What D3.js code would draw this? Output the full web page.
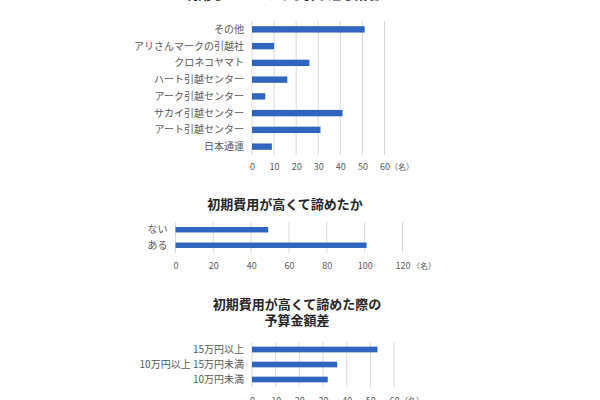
<!DOCTYPE html>
<html>
<head>
<meta charset="utf-8">
<script src="https://cdn.jsdelivr.net/npm/d3@7"></script>
<style>
  body { margin: 0; background: #fff; }
  text { font-family: "Noto Sans CJK JP", "Noto Sans", sans-serif; }
</style>
</head>
<body>
<div id="viz"></div>
<script>
// chart 1
var movers = ["その他", "アリさんマークの引越社", "クロネコヤマト", "ハート引越センター",
              "アーク引越センター", "サカイ引越センター", "アート引越センター", "日本通運"];
var moverCounts = [51, 10, 26, 16, 6, 41, 31, 9];
var moverTicks = [0, 10, 20, 30, 40, 50, 60];

// chart 2
var gaveUp = ["ない", "ある"];
var gaveUpCounts = [49, 101];
var gaveUpTicks = [0, 20, 40, 60, 80, 100, 120];

// chart 3
var budgets = ["15万円以上", "10万円以上 15万円未満", "10万円未満"];
var budgetCounts = [53, 36, 32];
var budgetTicks = [0, 10, 20, 30, 40, 50, 60];

var width = 600,
    height = 400;

var svg = d3.select("#viz").append("svg")
    .attr("width", width)
    .attr("height", height);

function barChart(o) {
  var x = d3.scaleLinear()
      .domain([0, o.ticks[o.ticks.length - 1]])
      .range([o.x0, o.x1]);
  var y = d3.scaleBand()
      .domain(o.cats)
      .range([o.y0, o.y1])
      .paddingInner(o.pad)
      .paddingOuter(o.pad / 2);

  var g = svg.append("g");

  // titles
  o.title.forEach(function(t, i) {
    g.append("text")
        .attr("x", o.titleX)
        .attr("y", o.titleY + i * 16)
        .attr("text-anchor", "middle")
        .style("font-size", "13px")
        .style("font-weight", "bold")
        .style("fill", "#262626")
        .text(t);
  });

  // gridlines
  g.selectAll(".grid")
      .data(o.ticks)
    .enter().append("line")
      .attr("x1", function(d) { return x(d); })
      .attr("x2", function(d) { return x(d); })
      .attr("y1", o.y0)
      .attr("y2", o.y1)
      .style("stroke", "#d9d9d9")
      .style("stroke-width", 1);

  // bars
  g.selectAll(".bar")
      .data(o.values)
    .enter().append("rect")
      .attr("x", x(0))
      .attr("y", function(d, i) { return y(o.cats[i]); })
      .attr("width", function(d) { return x(d) - x(0); })
      .attr("height", y.bandwidth())
      .style("fill", "#2f65be");

  // category labels
  g.selectAll(".cat")
      .data(o.cats)
    .enter().append("text")
      .attr("x", o.x0 - 8)
      .attr("y", function(d) { return y(d) + y.bandwidth() / 2; })
      .attr("dy", ".35em")
      .attr("text-anchor", "end")
      .style("font-size", "10px")
      .style("fill", "#595959")
      .text(function(d) { return d; });

  // x axis
  var axis = d3.axisBottom(x)
      .tickValues(o.ticks)
      .tickSize(0)
      .tickPadding(0);
  var ax = g.append("g")
      .attr("transform", "translate(0," + o.tickY + ")")
      .call(axis);
  ax.select(".domain").remove();
  ax.selectAll("text")
      .style("font-size", "9px")
      .style("fill", "#595959")
      .attr("dy", ".35em")
      .attr("y", 0);

  g.append("text")
      .attr("x", o.unitX)
      .attr("y", o.tickY)
      .attr("dy", ".35em")
      .style("font-size", "8px")
      .style("fill", "#595959")
      .text("（名）");
}

barChart({
  title: ["利用したことのある引っ越し業者"],
  titleX: 283, titleY: -1,
  cats: movers, values: moverCounts, ticks: moverTicks,
  x0: 252, x1: 384.5, y0: 21, y1: 155, pad: 0.62,
  tickY: 167, unitX: 390
});

barChart({
  title: ["初期費用が高くて諦めたか"],
  titleX: 285, titleY: 209,
  cats: gaveUp, values: gaveUpCounts, ticks: gaveUpTicks,
  x0: 175.5, x1: 402.5, y0: 222, y1: 253, pad: 0.65,
  tickY: 266, unitX: 412
});

barChart({
  title: ["初期費用が高くて諦めた際の", "予算金額差"],
  titleX: 297, titleY: 309,
  cats: budgets, values: budgetCounts, ticks: budgetTicks,
  x0: 252, x1: 394, y0: 342, y1: 387, pad: 0.62,
  tickY: 401, unitX: 400
});
</script>
</body>
</html>
